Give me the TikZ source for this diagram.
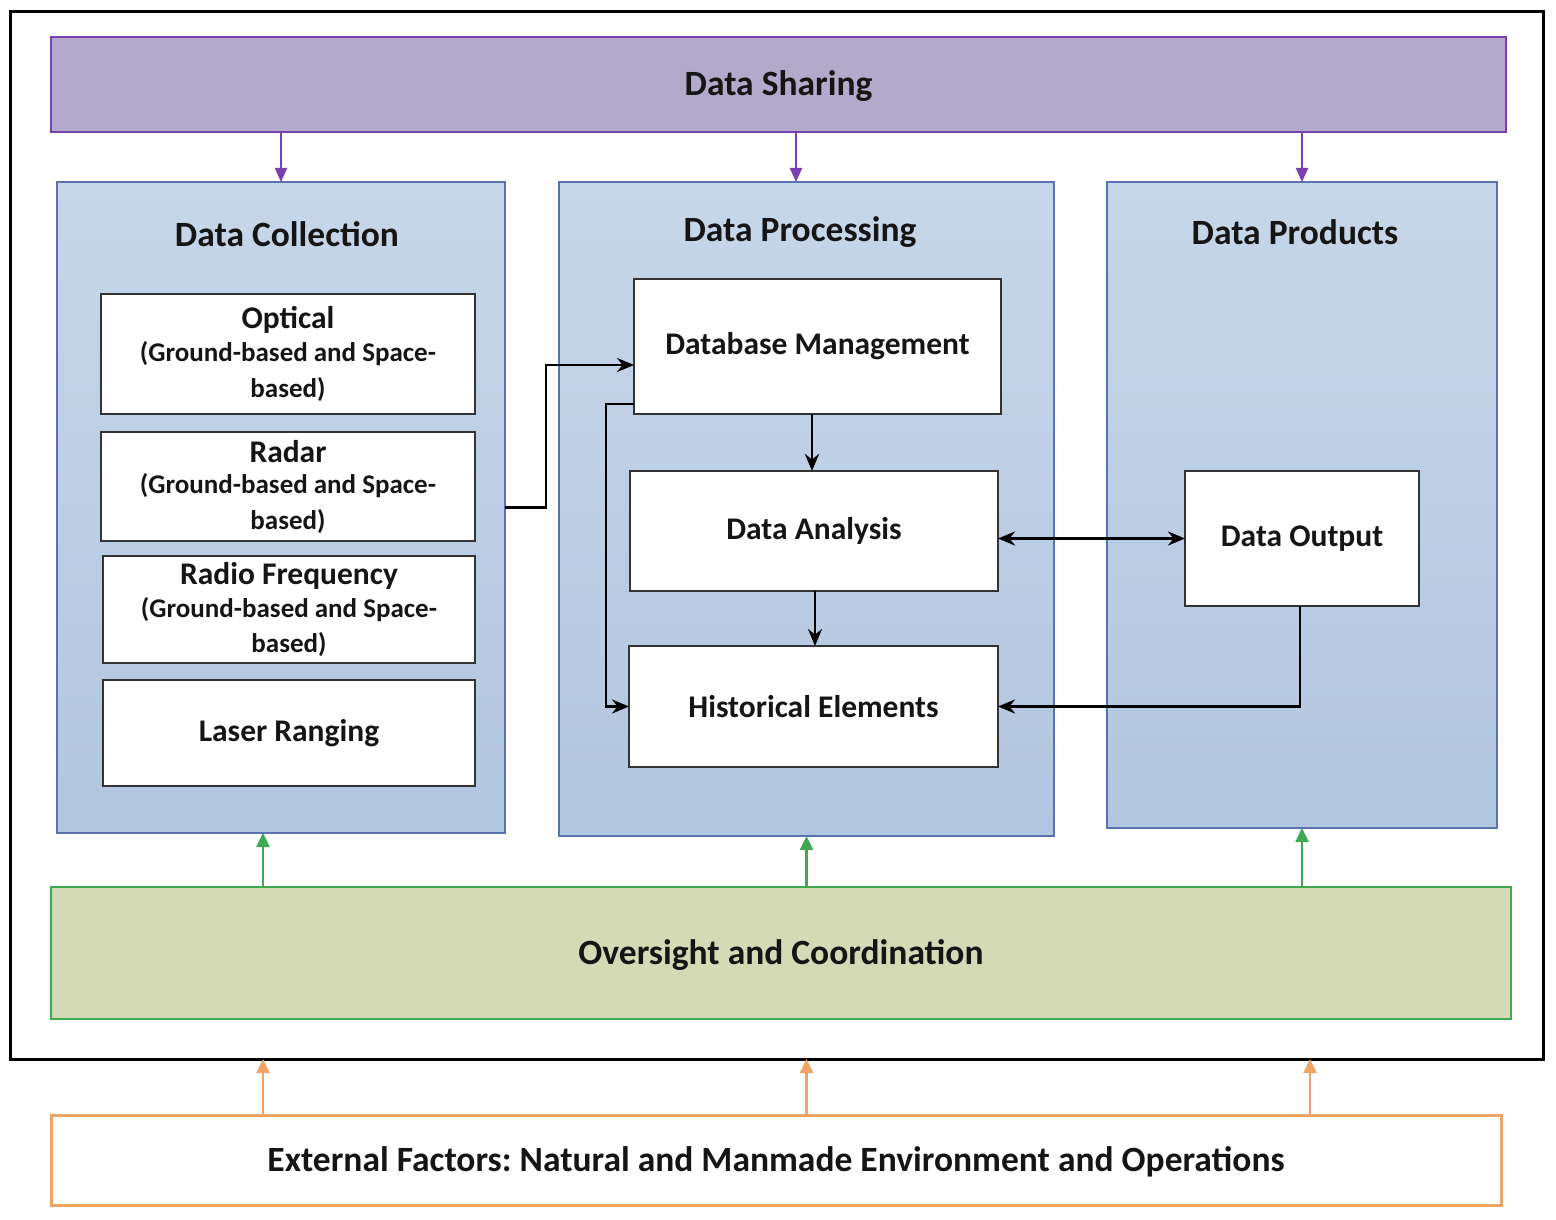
\documentclass[tikz,border=0pt]{standalone}
\usepackage{fontspec}
\setmainfont{Carlito}
\frenchspacing
\usetikzlibrary{arrows.meta}
\definecolor{dsfill}{HTML}{B3A9CB}
\definecolor{dsline}{HTML}{7A3FB0}
\definecolor{pantop}{HTML}{C7D7EA}
\definecolor{panbot}{HTML}{B2C6DF}
\definecolor{panline}{HTML}{5A72B5}
\definecolor{ocfill}{HTML}{D4DAB6}
\definecolor{ocline}{HTML}{3DAA52}
\definecolor{efline}{HTML}{EFA464}
\definecolor{boxline}{HTML}{333333}
\definecolor{txt}{HTML}{151515}
\tikzset{
  big/.style={font=\fontsize{35.5}{40}\selectfont\bfseries, text=txt},
  mid/.style={font=\fontsize{31.5}{36}\selectfont\bfseries, text=txt},
  small/.style={font=\fontsize{27}{35}\selectfont\bfseries, text=txt},
  panel/.style={draw=panline, line width=2pt, top color=pantop, bottom color=panbot, inner sep=0pt, outer sep=0pt},
  wbox/.style={draw=boxline, line width=2pt, fill=white, inner sep=0pt, outer sep=0pt, align=center},
  parrow/.style={draw=dsline, line width=2pt, -{Triangle[length=14pt,width=12pt]}},
  garrow/.style={draw=ocline, line width=2.5pt, -{Triangle[length=14pt,width=13pt]}},
  oarrow/.style={draw=efline, line width=2.5pt, -{Triangle[length=14pt,width=13pt]}},
  karrow/.style={draw=black, line width=2.8pt, -{Stealth[length=17pt,width=14pt]}},
}
\begin{document}
\begin{tikzpicture}[x=1pt,y=-1pt]
\useasboundingbox (0,0) rectangle (1556,1220);
\fill[white] (0,0) rectangle (1556,1220);
% outer frame
\node[draw=black, line width=3pt, minimum width=1533pt, minimum height=1047pt, inner sep=0pt, outer sep=0pt] (frame) at (776.5,535.5) {};
% data sharing
\node[draw=dsline, line width=2pt, fill=dsfill, minimum width=1455pt, minimum height=95pt, inner sep=0pt, outer sep=0pt] (DS) at (778.5,84.5) {};
\node[big] (tDS) at (778.5,86) {Data Sharing};
% panels
\node[panel, minimum width=448pt, minimum height=651pt] (DC) at (281,507.5) {};
\node[panel, minimum width=495pt, minimum height=654pt] (DP) at (806.5,509) {};
\node[panel, minimum width=390pt, minimum height=646pt] (DPr) at (1302,505) {};
\node[big] (tDC) at (287,234) {Data Collection};
\node[big] (tDP) at (800,232) {Data Processing};
\node[big] (tDPr) at (1295,232) {Data Products};
% collection boxes
\node[wbox, minimum width=374pt, minimum height=120pt] (OPT) at (288,354) {};
\node[mid] (tOPT1) at (288,320) {Optical};
\node[small] (tOPT2) at (288,354) {(Ground-based and Space-};
\node[small] (tOPT3) at (288,390) {based)};
\node[wbox, minimum width=374pt, minimum height=109pt] (RAD) at (288,486.5) {};
\node[mid] (tRAD1) at (288,452) {Radar};
\node[small] (tRAD2) at (288,486) {(Ground-based and Space-};
\node[small] (tRAD3) at (288,522) {based)};
\node[wbox, minimum width=372pt, minimum height=107pt] (RF) at (289,609.5) {};
\node[mid] (tRF1) at (289,576) {Radio Frequency};
\node[small] (tRF2) at (289,610) {(Ground-based and Space-};
\node[small] (tRF3) at (289,645) {based)};
\node[wbox, minimum width=372pt, minimum height=106pt, mid] (LR) at (289,733) {Laser Ranging};
% processing boxes
\node[wbox, minimum width=367pt, minimum height=135pt, mid] (DBM) at (817.5,346.5) {Database Management};
\node[wbox, minimum width=368pt, minimum height=120pt, mid] (DA) at (814,531) {Data Analysis};
\node[wbox, minimum width=369pt, minimum height=121pt, mid] (HE) at (813.5,706.5) {Historical Elements};
% products
\node[wbox, minimum width=234pt, minimum height=135pt, mid] (DO) at (1302,538.5) {Data Output};
% oversight
\node[draw=ocline, line width=2.5pt, fill=ocfill, minimum width=1460pt, minimum height=132pt, inner sep=0pt, outer sep=0pt] (OC) at (781,953) {};
\node[big] (tOC) at (781,955) {Oversight and Coordination};
% external
\node[draw=efline, line width=3pt, fill=white, minimum width=1450pt, minimum height=90pt, inner sep=0pt, outer sep=0pt] (EF) at (776,1160) {};
\node[big] (tEF) at (776,1162) {External Factors: Natural and Manmade Environment and Operations};
% purple arrows
\draw[parrow] (DC.north |- DS.south) -- (DC.north);
\draw[parrow] ([xshift=-10.5pt]DP.north |- DS.south) -- ([xshift=-10.5pt]DP.north);
\draw[parrow] (DPr.north |- DS.south) -- (DPr.north);
% green arrows
\draw[garrow] ([xshift=-18pt]DC.south |- OC.north) -- ([xshift=-18pt]DC.south);
\draw[garrow] (DP.south |- OC.north) -- (DP.south);
\draw[garrow] (DPr.south |- OC.north) -- (DPr.south);
% orange arrows
\draw[oarrow] ([xshift=-18pt]DC.south |- EF.north) -- ([xshift=-18pt]DC.south |- frame.south);
\draw[oarrow] (DP.south |- EF.north) -- (DP.south |- frame.south);
\draw[oarrow] ([xshift=8pt]DPr.south |- EF.north) -- ([xshift=8pt]DPr.south |- frame.south);
% black connectors
\draw[karrow] (DC.east) -- (546,507.5) |- ([yshift=-18.5pt]DBM.west);
\draw[karrow] ([yshift=-57.5pt]DBM.west) -- (606,404) |- (HE.west);
\draw[karrow] ([xshift=-5.5pt]DBM.south) -- ([xshift=-5.5pt]DBM.south |- DA.north);
\draw[karrow] ([xshift=1pt]DA.south) -- ([xshift=1pt]DA.south |- HE.north);
\draw[karrow, {Stealth[length=17pt,width=14pt]}-{Stealth[length=17pt,width=14pt]}] (DA.east |- DO.west) -- (DO.west);
\draw[karrow] ([xshift=-2pt]DO.south) |- (HE.east);
\end{tikzpicture}
\end{document}
